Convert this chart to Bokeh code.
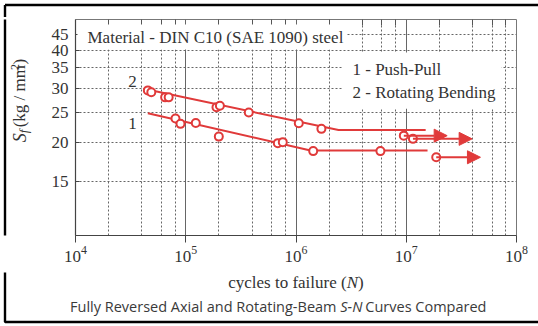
import numpy as np
from bokeh.plotting import figure
from bokeh.layouts import column, row
from bokeh.models import (Label, Arrow, NormalHead, FixedTicker, Grid, LogAxis,
                          PrintfTickFormatter, Range1d)
from bokeh.embed import file_html
from bokeh.resources import INLINE

# ---------------- data ----------------
# curve 2: rotating bending
rb_cycles = [45300, 48700, 65000, 70000, 190000, 204000, 373000, 1060000, 1700000]
rb_stress = [29.6, 29.2, 28.1, 28.1, 26.1, 26.4, 25.1, 23.15, 22.2]
rb_runout_cycles = [9.5e6, 1.15e7]
rb_runout_stress = [21.1, 20.6]
rb_runout_end = [2.35e7, 3.96e7]
rb_fit_cycles = [44700, 2.43e6, 1.5e7]
rb_fit_stress = [29.8, 22.0, 22.0]

# curve 1: push-pull
pp_cycles = [80700, 89600, 123300, 199500, 684000, 759000, 1432000, 5830000]
pp_stress = [24.0, 23.05, 23.2, 20.95, 19.95, 20.1, 18.8, 18.8]
pp_runout_cycles = [1.87e7]
pp_runout_stress = [17.95]
pp_runout_end = [4.71e7]
pp_fit_cycles = [45300, 1.354e6, 1.56e7]
pp_fit_stress = [24.95, 18.88, 18.88]

y_ticks = [15, 20, 25, 30, 35, 40, 45]
x_major = [1e4, 1e5, 1e6, 1e7, 1e8]
x_minor = [m * 10 ** k for k in range(4, 8) for m in (2, 4, 6, 8)]

title_text = "Material - DIN C10 (SAE 1090) steel"
legend_text = "1 - Push-Pull\n2 - Rotating Bending"
xlabel_parts = ["cycles to failure (", "N", ")"]
ylabel_parts = ["S", "f", "(kg / mm", "2", ")"]
caption_parts = ["Fully Reversed Axial and Rotating-Beam", "S-N", "Curves Compared"]

# ---------------- layout ----------------
W, H = 538, 326
TOP_H = 17            # strip above the plot
LEFT_W = 44           # strip holding the y label
MAIN_H = 255          # plot figure height (page y 17..272)
BOT_H = H - TOP_H - MAIN_H
FL, FR, FT, FB = 75, 516, 19, 235   # plot frame in page pixels
XLO, XHI, YLO, YHI = 1e4, 1e8, 10, 50.3

RED = "#e03a3a"
GRID = "#666666"
TXT = "#333333"
SERIF = "Liberation Serif"
SANS = "Open Sans"
BORDER = dict(line_color="black", line_width=2.4)


def strip(w, h):
    f = figure(width=w, height=h, x_range=Range1d(0, w), y_range=Range1d(0, h),
               output_backend="svg", toolbar_location=None, min_border=0,
               x_axis_location=None, y_axis_location=None)
    f.grid.visible = False
    f.outline_line_color = None
    f.background_fill_color = "white"
    f.border_fill_color = "white"
    return f


# ---------------- main plot ----------------
p = figure(width=W - LEFT_W, height=MAIN_H, x_axis_type="log", y_axis_type="log",
           x_range=(XLO, XHI), y_range=(YLO, YHI),
           output_backend="svg", toolbar_location=None,
           min_border_left=FL - LEFT_W, min_border_right=W - FR,
           min_border_top=FT - TOP_H, min_border_bottom=TOP_H + MAIN_H - FB)
p.background_fill_color = "white"
p.border_fill_color = "white"
p.outline_line_color = "#777777"
p.outline_line_width = 1

p.xgrid.ticker = FixedTicker(ticks=x_major)
p.xgrid.grid_line_color = GRID
p.xgrid.grid_line_width = 1
p.ygrid.ticker = FixedTicker(ticks=y_ticks)
p.ygrid.grid_line_color = GRID
p.ygrid.grid_line_dash = "2 2"
p.add_layout(Grid(dimension=0, ticker=FixedTicker(ticks=x_minor),
                  grid_line_color=GRID, grid_line_dash="2 2", grid_line_width=1))

p.xaxis.ticker = FixedTicker(ticks=x_major)
p.yaxis.ticker = FixedTicker(ticks=y_ticks)
p.yaxis.formatter = PrintfTickFormatter(format="%d")
for ax in (p.xaxis, p.yaxis):
    ax.axis_line_color = "#444444"
    ax.axis_line_width = 1.2
    ax.major_tick_line_color = "#444444"
    ax.minor_tick_line_color = None
    ax.major_label_text_font = SERIF
    ax.major_label_text_font_size = "17px"
    ax.major_label_text_color = TXT
p.xaxis.major_tick_out = 7
p.xaxis.major_tick_in = 0
p.xaxis.major_label_standoff = 3
p.yaxis.major_tick_out = 0
p.yaxis.major_tick_in = 4
p.yaxis.major_label_standoff = 7

# short inward ticks along the top edge (no labels drawn)
top_ticks = LogAxis(ticker=FixedTicker(ticks=x_minor), major_tick_in=6, major_tick_out=0,
                    major_tick_line_color="#555555", axis_line_color=None,
                    minor_tick_line_color=None, major_label_text_font_size="1px",
                    major_label_text_color=None, major_label_standoff=0)
p.add_layout(top_ticks, "above")

# fitted lines
p.line(rb_fit_cycles, rb_fit_stress, line_color=RED, line_width=2)
p.line(pp_fit_cycles, pp_fit_stress, line_color=RED, line_width=2)

# run-out arrows
for xs, ys, xe in ((rb_runout_cycles, rb_runout_stress, rb_runout_end),
                   (pp_runout_cycles, pp_runout_stress, pp_runout_end)):
    for x0, y0, x1 in zip(xs, ys, xe):
        arr = Arrow(x_start=x0, y_start=y0, x_end=x1, y_end=y0,
                    line_color=RED, line_width=2,
                    end=NormalHead(size=13, fill_color=RED, line_color=RED, line_width=1))
        arr.level = "glyph"
        p.add_layout(arr)

# data points
for xs, ys in ((rb_cycles, rb_stress), (pp_cycles, pp_stress),
               (rb_runout_cycles, rb_runout_stress), (pp_runout_cycles, pp_runout_stress)):
    p.scatter(xs, ys, marker="circle", size=8, fill_color="white",
              line_color=RED, line_width=2)


def sx(px):
    return 10 ** (np.log10(XLO) + (px - FL) / (FR - FL) * (np.log10(XHI) - np.log10(XLO)))


def sy(py):
    return 10 ** (np.log10(YLO) + (FB - py) / (FB - FT) * (np.log10(YHI) - np.log10(YLO)))


p.add_layout(Label(x=sx(77), y=sy(36.5), text=title_text, text_font=SERIF,
                   text_font_size="17px", text_color=TXT, text_baseline="middle",
                   background_fill_color="white",
                   padding=dict(left=10, right=3, top=3, bottom=3)))
p.add_layout(Label(x=sx(342), y=sy(52), text=legend_text, text_font=SERIF,
                   text_font_size="17px", text_color=TXT, text_baseline="top",
                   text_line_height=1.22, background_fill_color="white",
                   padding=dict(left=10, right=6, top=7, bottom=7)))
p.add_layout(Label(x=sx(132), y=sy(81), text="2", text_font=SERIF,
                   text_font_size="17px", text_color=TXT, text_align="center",
                   text_baseline="middle"))
p.add_layout(Label(x=sx(132), y=sy(123), text="1", text_font=SERIF,
                   text_font_size="17px", text_color=TXT, text_align="center",
                   text_baseline="middle"))

# ---------------- top strip ----------------
top = strip(W, TOP_H)
top.line([4.5, W + 5], [TOP_H - 4.5, TOP_H - 4.5], **BORDER)
top.line([4.5, 4.5], [TOP_H - 4.5, -3], **BORDER)

# ---------------- left strip (y label, rotated, centred pieces) ----------------
left = strip(LEFT_W, MAIN_H)
left.line([4.5, 4.5], [-3, MAIN_H + 3], **BORDER)
yl_cx = 19
for txt, cy, dx, size, style in zip(ylabel_parts,
                                    (156.5, 149.2, 107.5, 73.0, 66.7),
                                    (0, 4, 0, -5, 0),
                                    ("18px", "13px", "17px", "12px", "17px"),
                                    ("italic", "italic", "normal", "normal", "normal")):
    left.add_layout(Label(x=yl_cx + dx, y=MAIN_H - (cy - TOP_H), angle=np.pi / 2, text=txt,
                          text_font=SERIF, text_font_size=size, text_font_style=style,
                          text_color=TXT, text_align="center", text_baseline="middle"))

# ---------------- bottom strip (x label + caption) ----------------
bot = strip(W, BOT_H)
y_bottom_line = BOT_H - (321.5 - TOP_H - MAIN_H)
bot.line([4.5, 4.5, W + 5], [BOT_H + 3, y_bottom_line, y_bottom_line], **BORDER)
xl_y = BOT_H - (282 - TOP_H - MAIN_H)
xl_start = (FL + FR) / 2 - 67.8
for txt, dx, style in zip(xlabel_parts, (0, 118.5, 129.8), ("normal", "italic", "normal")):
    bot.add_layout(Label(x=xl_start + dx, y=xl_y, text=txt, text_font=SERIF,
                         text_font_size="17px", text_font_style=style, text_color=TXT,
                         text_align="left", text_baseline="middle"))
cap_y = BOT_H - (306 - TOP_H - MAIN_H)
cap_split = 336
for txt, dx, align, style in zip(caption_parts, (0, 3.8, 28.8),
                                 ("right", "left", "left"),
                                 ("normal", "italic", "normal")):
    bot.add_layout(Label(x=cap_split + dx, y=cap_y, text=txt, text_font=SANS,
                         text_font_size="14.5px", text_font_style=style,
                         text_color="#3a3a3a", text_align=align, text_baseline="middle"))

layout = column(top, row(left, p), bot)
open("out.html", "w").write(file_html(layout, INLINE))
